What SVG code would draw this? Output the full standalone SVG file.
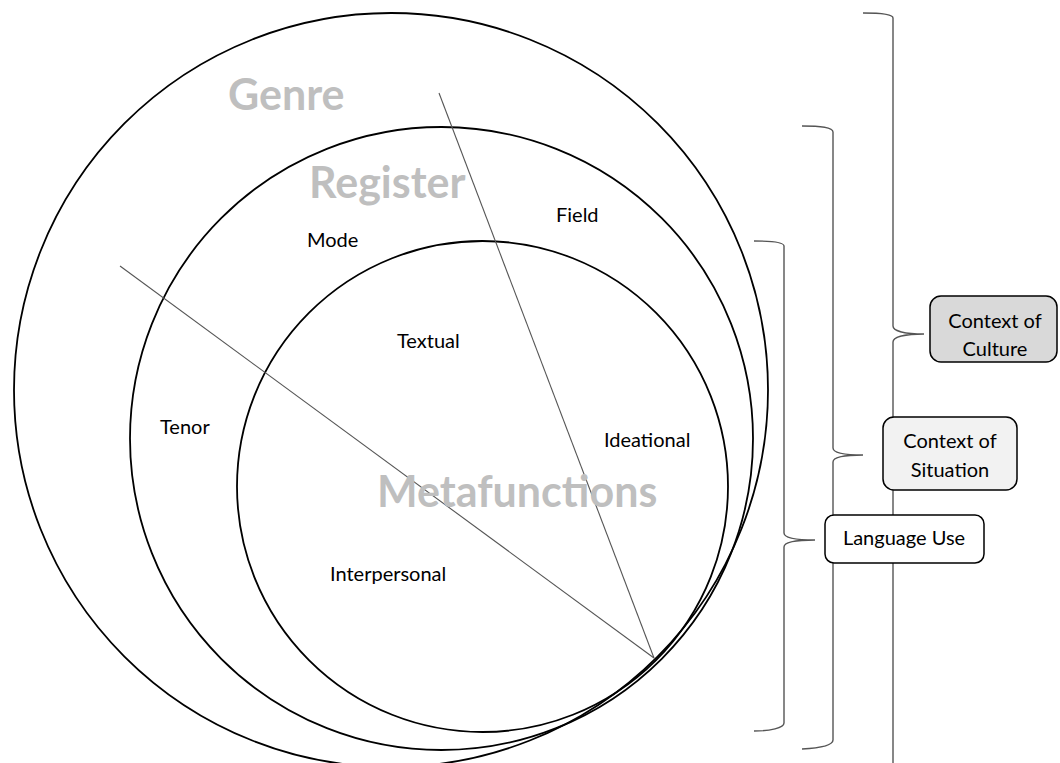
<svg xmlns="http://www.w3.org/2000/svg" width="1060" height="763" viewBox="0 0 1060 763">
<style>
.circ{fill:none;stroke:#000;stroke-width:1.8}
.ray{stroke:#555;stroke-width:1.1;fill:none}
.brace{fill:none;stroke:#555;stroke-width:1.4}
.big{font-family:Lato,"Open Sans","Liberation Sans",sans-serif;font-weight:bold;font-size:43px;fill:#BFBFBF}
.lbl{font-family:Lato,"Open Sans","Liberation Sans",sans-serif;font-size:20px;fill:#000}
.box{stroke:#000;stroke-width:1.5}
.bt{font-family:Lato,"Open Sans","Liberation Sans",sans-serif;font-size:20px;fill:#000;text-anchor:middle}
</style>
<rect width="1060" height="763" fill="#fff"/>
<g id="circles">
<circle id="genre-circle" class="circ" cx="391" cy="390" r="377"/>
<circle id="register-circle" class="circ" cx="441.5" cy="438.5" r="311.5"/>
<circle id="metafunctions-circle" class="circ" cx="482.5" cy="486.5" r="245.5"/>
</g>
<g id="connectors">
<line class="ray" x1="439" y1="93" x2="654" y2="658"/>
<line class="ray" x1="120" y1="266" x2="654" y2="658"/>
<path class="brace" d="M863,13 C880,13 893,14 893,18 L893,326 C893,331 905,334 924,334 C905,334 893,337 893,342 L893,763"/>
<path class="brace" d="M802,126 C820,126 833,127 833,132 L833,448 C833,453 845,455 863,455 C845,455 833,457 833,462 L833,740 C833,745 820,748 802,749"/>
<path class="brace" d="M754,241 C770,241 784,242 784,246 L784,533 C784,538 796,540 815,540 C796,540 784,542 784,547 L784,723 C784,728 770,731 754,731"/>
</g>
<g id="genre"><text class="big" x="228" y="110">Genre</text></g>
<g id="register"><text class="big" x="309" y="198">Register</text></g>
<g id="metafunctions"><text class="big" x="377" y="507">Metafunctions</text></g>
<g id="field"><text class="lbl" x="556" y="222">Field</text></g>
<g id="mode"><text class="lbl" x="307" y="247">Mode</text></g>
<g id="textual"><text class="lbl" x="397" y="348">Textual</text></g>
<g id="ideational"><text class="lbl" x="604" y="447">Ideational</text></g>
<g id="tenor"><text class="lbl" x="160" y="434">Tenor</text></g>
<g id="interpersonal"><text class="lbl" x="330" y="581">Interpersonal</text></g>
<g id="context-of-culture">
<rect class="box" x="930" y="296" width="127" height="66" rx="11" fill="#D9D9D9"/>
<text class="bt" x="995" y="328">Context of</text>
<text class="bt" x="995" y="356">Culture</text>
</g>
<g id="context-of-situation">
<rect class="box" x="883" y="417" width="134" height="73" rx="11" fill="#F2F2F2"/>
<text class="bt" x="950" y="448">Context of</text>
<text class="bt" x="950" y="477">Situation</text>
</g>
<g id="language-use">
<rect class="box" x="825" y="515" width="159" height="48" rx="9" fill="#fff"/>
<text class="bt" x="904" y="545">Language Use</text>
</g>
</svg>
